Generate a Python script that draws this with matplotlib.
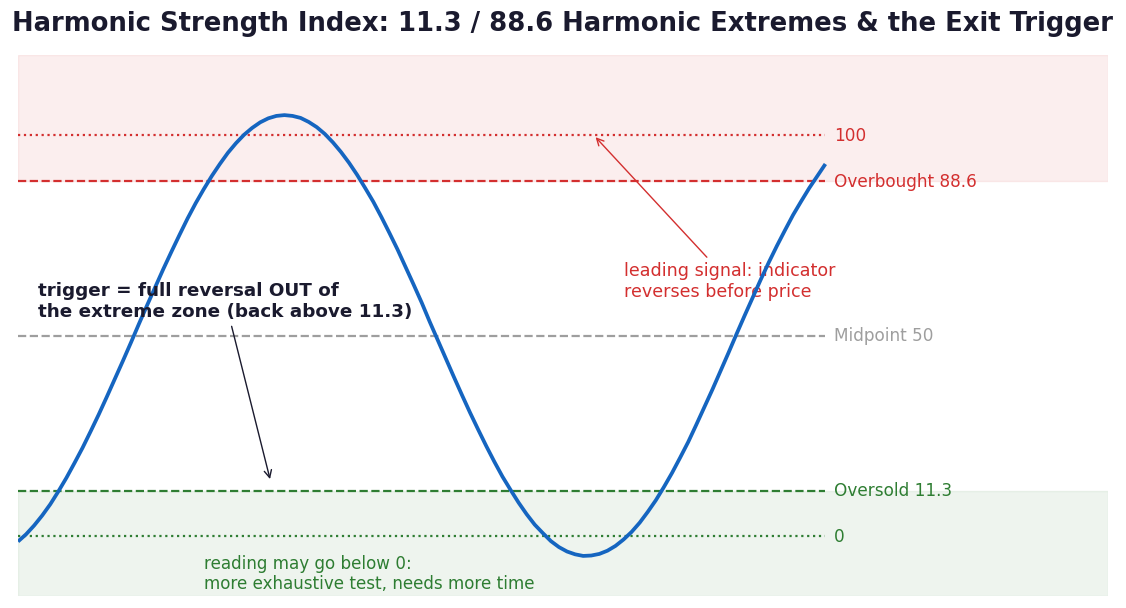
import matplotlib
matplotlib.use("Agg")
import matplotlib.pyplot as plt

# --- data ---
x_vals = list(range(0, 101))
hsi_vals = [-1.4, 0.4, 2.6, 5.1, 7.9, 11.1, 14.5, 18.2, 22.0, 26.1,
            30.3, 34.7, 39.2, 43.7, 48.3, 53.0, 57.6, 62.1, 66.6, 70.9,
            75.1, 79.2, 83.0, 86.5, 89.8, 92.8, 95.6, 98.0, 100.1, 101.8,
            103.2, 104.2, 104.8, 105.0, 104.8, 104.3, 103.3, 102.0, 100.3, 98.2,
            95.8, 93.1, 90.1, 86.8, 83.4, 79.6, 75.6, 71.5, 67.1, 62.7,
            58.2, 53.4, 48.8, 44.2, 39.6, 35.1, 30.7, 26.5, 22.4, 18.5,
            14.8, 11.5, 8.3, 5.4, 2.8, 0.7, -1.3, -2.8, -3.9, -4.6,
            -5.0, -4.9, -4.5, -3.7, -2.5, -0.9, 1.0, 3.3, 6.0, 8.9,
            12.2, 15.7, 19.5, 23.4, 27.7, 32.1, 36.5, 41.1, 45.7, 50.4,
            55.0, 59.5, 64.0, 68.3, 72.4, 76.3, 80.1, 83.5, 86.8, 89.8, 92.8]

level_values = [100, 88.6, 50, 11.3, 0]
level_labels = ["100", "Overbought 88.6", "Midpoint 50", "Oversold 11.3", "0"]

RED = "#d32f2f"
GREEN = "#2e7d32"
GRAY = "#9e9e9e"
BLUE = "#1565c0"
DARK = "#1a1a2e"

level_colors = [RED, RED, GRAY, GREEN, GREEN]
level_styles = [":", "--", "--", "--", ":"]

fig = plt.figure(figsize=(11.26, 6.08), dpi=100)
ax = fig.add_axes([18 / 1126, 12 / 608, 1090 / 1126, 541 / 608])

x_end = x_vals[-1]
ax.set_xlim(0, 135)
ax.set_ylim(-15, 120)

ax.axhspan(88.6, 120, color=RED, alpha=0.08, zorder=0)
ax.axhspan(-15, 11.3, color=GREEN, alpha=0.08, zorder=0)

for v, lab, c, ls in zip(level_values, level_labels, level_colors, level_styles):
    ax.plot([0, x_end], [v, v], color=c, linestyle=ls, linewidth=1.6, zorder=1)
    ax.text(x_end + 1.1, v - 0.2, lab, color=c, fontsize=12.2, va="center", ha="left")

ax.plot(x_vals, hsi_vals, color=BLUE, linewidth=2.7, zorder=3,
        solid_capstyle="butt")

ax.annotate("leading signal: indicator\nreverses before price",
            xy=(71.3, 100), xytext=(75, 63.5), color=RED, fontsize=12.6,
            ha="left", va="center",
            arrowprops=dict(arrowstyle="->", color=RED, lw=1.0), zorder=2)

ax.annotate("trigger = full reversal OUT of\nthe extreme zone (back above 11.3)",
            xy=(31.3, 13.5), xytext=(2.5, 58.5), color=DARK, fontsize=13.2,
            fontweight="bold", ha="left", va="center",
            arrowprops=dict(arrowstyle="->", color=DARK, lw=1.0), zorder=4)

ax.text(23, -9.5, "reading may go below 0:\nmore exhaustive test, needs more time",
        color=GREEN, fontsize=12.1, ha="left", va="center")

ax.set_axis_off()

fig.suptitle("Harmonic Strength Index: 11.3 / 88.6 Harmonic Extremes & the Exit Trigger",
             fontsize=18.6, fontweight="bold", color=DARK, y=0.982)

fig.savefig("out.png", dpi=100)
